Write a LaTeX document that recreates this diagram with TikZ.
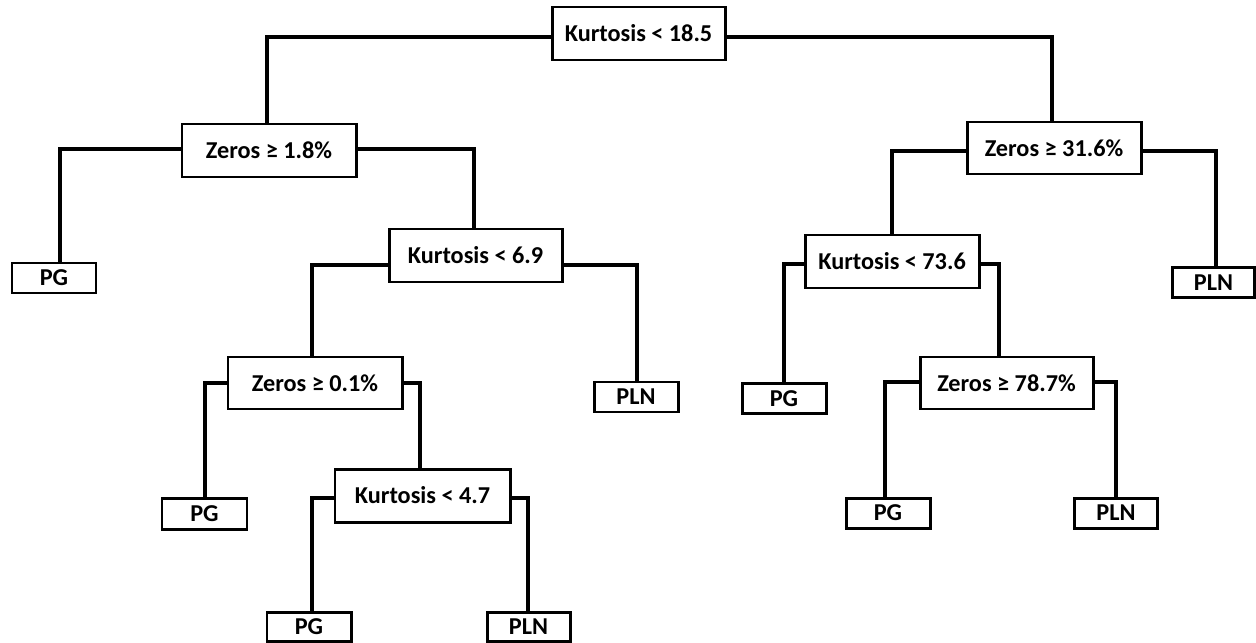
\documentclass[tikz,border=0pt]{standalone}
\usepackage{fontspec}
\setmainfont{Carlito}
\begin{document}
\begin{tikzpicture}[x=0.02cm,y=-0.02cm,
  nb/.style n args={2}{draw, line width=1.7pt, inner sep=0pt,
     minimum width=#1*0.02cm, minimum height=#2*0.02cm,
     font=\fontsize{13.8}{16}\selectfont\bfseries},
  conn/.style={line width=1.8pt, line join=miter}]
\useasboundingbox (0,0) rectangle (1256,642);
% nodes
\node[nb={173}{53}] (root) at (638.5,33.5) {Kurtosis < 18.5};
\node[nb={174}{53}] (z18)  at (269,150.5) {Zeros ≥ 1.8\%};
\node[nb={84}{30}]  (pg1)  at (54,278) {PG};
\node[nb={173}{53}] (k69)  at (475.5,255.5) {Kurtosis < 6.9};
\node[nb={84}{30}]  (pln1) at (636,397) {PLN};
\node[nb={174}{52}] (z01)  at (315,383) {Zeros ≥ 0.1\%};
\node[nb={85}{31}]  (pg2)  at (204.5,513.5) {PG};
\node[nb={175}{53}] (k47)  at (422.5,495.5) {Kurtosis < 4.7};
\node[nb={84}{29}]  (pg3)  at (309,626.5) {PG};
\node[nb={83}{29}]  (pln2) at (528.5,626.5) {PLN};
\node[nb={174}{52}] (z316) at (1054,148) {Zeros ≥ 31.6\%};
\node[nb={82}{30}]  (pln3) at (1213.5,282.5) {PLN};
\node[nb={174}{53}] (k736) at (892,261.5) {Kurtosis < 73.6};
\node[nb={84}{30}]  (pg4)  at (784,398.5) {PG};
\node[nb={173}{52}] (z787) at (1006.5,383) {Zeros ≥ 78.7\%};
\node[nb={84}{30}]  (pg5)  at (888,513) {PG};
\node[nb={83}{30}]  (pln4) at (1116,513) {PLN};
% connectors
\draw[conn] (root.west |- 0,37) -| (267,0 |- z18.north);
\draw[conn] (root.east |- 0,37) -| (1052,0 |- z316.north);
\draw[conn] (z18.west |- 0,149) -| (60,0 |- pg1.north);
\draw[conn] (z18.east |- 0,149) -| (474,0 |- k69.north);
\draw[conn] (k69.west |- 0,265) -| (312,0 |- z01.north);
\draw[conn] (k69.east |- 0,265) -| (637,0 |- pln1.north);
\draw[conn] (z01.west |- 0,383) -| (205,0 |- pg2.north);
\draw[conn] (z01.east |- 0,383) -| (420,0 |- k47.north);
\draw[conn] (k47.west |- 0,498) -| (312,0 |- pg3.north);
\draw[conn] (k47.east |- 0,498) -| (528,0 |- pln2.north);
\draw[conn] (z316.west |- 0,151) -| (892,0 |- k736.north);
\draw[conn] (z316.east |- 0,151) -| (1216,0 |- pln3.north);
\draw[conn] (k736.west |- 0,264) -| (784,0 |- pg4.north);
\draw[conn] (k736.east |- 0,264) -| (999,0 |- z787.north);
\draw[conn] (z787.west |- 0,382) -| (885,0 |- pg5.north);
\draw[conn] (z787.east |- 0,382) -| (1116,0 |- pln4.north);
\end{tikzpicture}
\end{document}
